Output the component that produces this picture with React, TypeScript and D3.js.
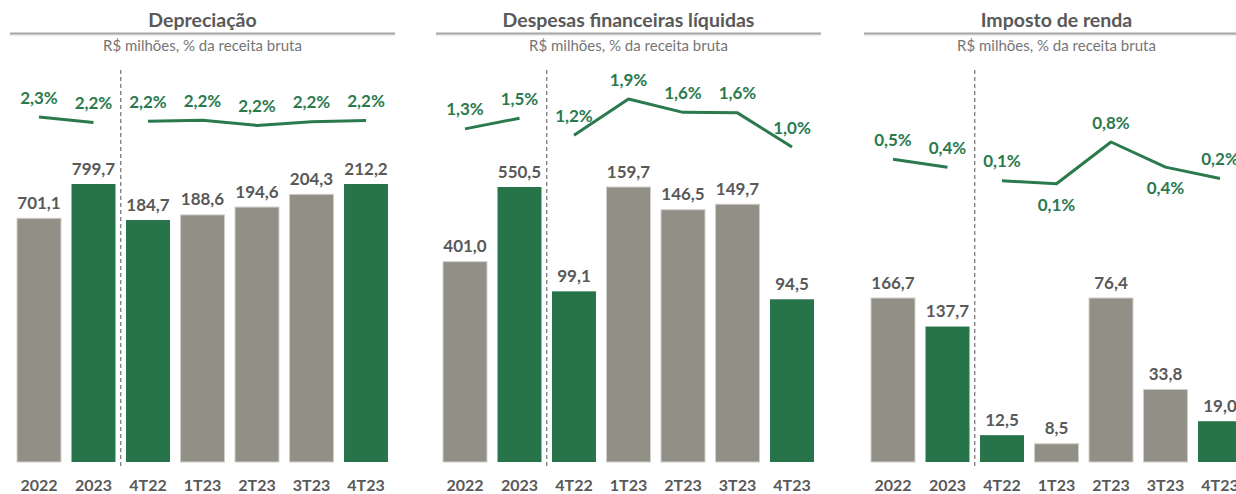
import React from "react";
import * as d3 from "d3";

// Three small panels: annual + quarterly bars with % of gross revenue lines.
const categories = ["2022", "2023", "4T22", "1T23", "2T23", "3T23", "4T23"];
const titles = ["Depreciação", "Despesas financeiras líquidas", "Imposto de renda"];
const subtitle = "R$ milhões, % da receita bruta";

const deprBars = [701.1, 799.7, 184.7, 188.6, 194.6, 204.3, 212.2];
const deprPct = [2.3, 2.21, 2.23, 2.244, 2.16, 2.22, 2.24];

const finBars = [401.0, 550.5, 99.1, 159.7, 146.5, 149.7, 94.5];
const finPct = [1.34, 1.54, 1.22, 1.9, 1.65, 1.64, 1.0];

const irBars = [166.7, 137.7, 12.5, 8.5, 76.4, 33.8, 19.0];
const irPct = [0.5, 0.36, 0.12, 0.07, 0.8, 0.36, 0.16];

// highlighted (green) bars
const highlight = ["2023", "4T22", "4T23"];

const GREEN = "#27744b";
const LINE = "#2b7a4e";
const GRAY = "#918f86";
const TEXT = "#595959";
const FONT = "Lato, 'Open Sans', sans-serif";

const BASE = 462;

const panels = [
  { left: 10, bars: deprBars, pct: deprPct, barH: 278, pDom: [2.3, 2.2], pRange: [117, 123], below: [] as number[] },
  { left: 436, bars: finBars, pct: finPct, barH: 275, pDom: [1.9, 1.0], pRange: [99, 147], below: [] as number[] },
  { left: 864, bars: irBars, pct: irPct, barH: 164, pDom: [0.8, 0.1], pRange: [142, 182], below: [3, 5] },
];

const fmt = (v: number, d = 1) => v.toFixed(d).replace(".", ",");

function Panel({ p, title }: { p: (typeof panels)[number]; title: string }) {
  const W = 385;
  const x = d3
    .scaleBand()
    .domain(categories)
    .range([p.left + 1.75, p.left + 383.25])
    .paddingInner(0.193)
    .paddingOuter(0.0963);
  const bw = x.bandwidth();
  const cx = (c: string) => (x(c) as number) + bw / 2;

  const annual = categories.slice(0, 2);
  const quarters = categories.slice(2);
  const yA = d3.scaleLinear().domain([0, d3.max(p.bars.slice(0, 2)) as number]).range([BASE, BASE - p.barH]);
  const yQ = d3.scaleLinear().domain([0, d3.max(p.bars.slice(2)) as number]).range([BASE, BASE - p.barH]);
  const yP = d3.scaleLinear().domain(p.pDom).range(p.pRange);

  const line = d3
    .line<string>()
    .x((c) => cx(c))
    .y((c) => yP(p.pct[categories.indexOf(c)]));

  const sepX = ((x("2023") as number) + bw + (x("4T22") as number)) / 2;

  return (
    <g>
      <text x={p.left + W / 2} y={27} textAnchor="middle" fontFamily={FONT} fontWeight={700} fontSize={19.5} fill={TEXT}>
        {title}
      </text>
      <line x1={p.left} x2={p.left + W} y1={35} y2={35} stroke="#ececec" strokeWidth={2} />
      <line x1={p.left} x2={p.left + W} y1={33.5} y2={33.5} stroke="#a6a6a6" strokeWidth={2} />
      <text x={p.left + W / 2} y={51} textAnchor="middle" fontFamily={FONT} fontSize={15} fill="#767676">
        {subtitle}
      </text>

      <line x1={sepX} x2={sepX} y1={70} y2={466} stroke="#707070" strokeWidth={1.2} strokeDasharray="4,3" />

      {categories.map((c, i) => {
        const y = i < 2 ? yA : yQ;
        const v = p.bars[i];
        const green = highlight.includes(c);
        return (
          <g key={c}>
            <rect
              x={x(c)}
              y={y(v)}
              width={bw}
              height={BASE - y(v)}
              fill={green ? GREEN : GRAY}
              stroke={green ? "none" : "#cfcfca"}
              strokeWidth={1}
            />
            <text x={cx(c)} y={y(v) - 9.5} textAnchor="middle" fontFamily={FONT} fontWeight={700} fontSize={17} fill={TEXT}>
              {fmt(v)}
            </text>
            <text x={cx(c)} y={491} textAnchor="middle" fontFamily={FONT} fontWeight={700} fontSize={16} fill={TEXT}>
              {c}
            </text>
          </g>
        );
      })}

      <path d={line(annual) ?? ""} fill="none" stroke={LINE} strokeWidth={3} strokeLinejoin="round" />
      <path d={line(quarters) ?? ""} fill="none" stroke={LINE} strokeWidth={3} strokeLinejoin="round" />
      {categories.map((c, i) => {
        const py = yP(p.pct[i]);
        const below = p.below.includes(i);
        return (
          <text
            key={"p" + c}
            x={cx(c)}
            y={below ? py + 27 : py - 13.5}
            textAnchor="middle"
            fontFamily={FONT}
            fontWeight={700}
            fontSize={17}
            fill={LINE}
          >
            {fmt(p.pct[i]) + "%"}
          </text>
        );
      })}
    </g>
  );
}

export default function App() {
  return (
    <svg width={1236} height={494} style={{ position: "absolute", left: 0, top: 0, background: "#fff" }}>
      {panels.map((p, i) => (
        <Panel key={i} p={p} title={titles[i]} />
      ))}
    </svg>
  );
}
